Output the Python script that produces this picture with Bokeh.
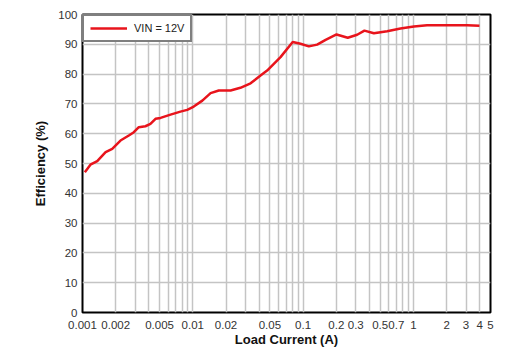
from bokeh.plotting import figure
from bokeh.models import FixedTicker, CustomJSTickFormatter, Legend, LegendItem, Range1d
from bokeh.embed import file_html
from bokeh.resources import INLINE

# ---- data ----
load_current = [0.00105, 0.00118, 0.00136, 0.00162, 0.00186, 0.00221, 0.00263, 0.00292,
                0.00324, 0.00372, 0.00413, 0.00459, 0.0051, 0.00628, 0.00773, 0.0089,
                0.0102, 0.0122, 0.0145, 0.0172, 0.022, 0.027, 0.0334, 0.0411, 0.0472,
                0.0624, 0.0805, 0.0947, 0.1127, 0.134, 0.16, 0.201, 0.254, 0.309, 0.36,
                0.438, 0.578, 0.764, 1.01, 1.33, 2.02, 3.07, 3.97]
efficiency = [47.1, 49.6, 50.8, 53.8, 54.9, 57.7, 59.4, 60.5,
              62.2, 62.5, 63.3, 65.0, 65.3, 66.4, 67.4, 68.0,
              69.1, 71.1, 73.6, 74.5, 74.5, 75.4, 76.9, 79.5, 81.2,
              85.7, 90.8, 90.2, 89.3, 89.9, 91.5, 93.3, 92.2, 93.2, 94.6,
              93.7, 94.4, 95.3, 96.0, 96.4, 96.4, 96.4, 96.2]
series_label = "VIN = 12V"

xtick_values = [0.001, 0.002, 0.005, 0.01, 0.02, 0.05, 0.1, 0.2, 0.3, 0.5, 0.7, 1, 2, 3, 4, 5]
xtick_labels = ["0.001", "0.002", "0.005", "0.01", "0.02", "0.05", "0.1", "0.2", "0.3",
                "0.5", "0.7", "1", "2", "3", "4", "5"]
xgrid_values = [m * d for d in [0.001, 0.01, 0.1, 1] for m in range(1, 10) if m * d <= 5.0001]
ytick_values = [0, 10, 20, 30, 40, 50, 60, 70, 80, 90, 100]

p = figure(width=522, height=364, x_axis_type="log",
           x_range=Range1d(0.001, 5), y_range=Range1d(0, 100),
           output_backend="svg", toolbar_location=None,
           min_border_left=82, min_border_right=32, min_border_top=14, min_border_bottom=52,
           frame_width=408, frame_height=298)
p.background_fill_color = "white"
p.border_fill_color = "white"
p.outline_line_color = "black"
p.outline_line_width = 2

r = p.line(load_current, efficiency, line_color="#e8141c", line_width=2.5)

font = "Liberation Sans"
p.xaxis.ticker = FixedTicker(ticks=xtick_values)
p.xaxis.formatter = CustomJSTickFormatter(args=dict(vals=xtick_values, labs=xtick_labels), code="""
let best = 0, bd = Infinity;
for (let i = 0; i < vals.length; i++) {
  const d = Math.abs(Math.log(vals[i]) - Math.log(tick));
  if (d < bd) { bd = d; best = i; }
}
return labs[best];
""")
p.yaxis.ticker = FixedTicker(ticks=ytick_values)
p.xgrid.ticker = FixedTicker(ticks=xgrid_values)
p.ygrid.ticker = FixedTicker(ticks=ytick_values)

for g in (p.xgrid, p.ygrid):
    g.grid_line_color = "#c4c4c4"
    g.grid_line_width = 1.5

for ax in (p.xaxis, p.yaxis):
    ax.axis_line_color = None
    ax.major_tick_line_color = None
    ax.minor_tick_line_color = None
    ax.major_tick_out = 0
    ax.major_tick_in = 0
    ax.minor_tick_out = 0
    ax.minor_tick_in = 0
    ax.major_label_text_font = font
    ax.major_label_text_font_size = "11.5px"
    ax.major_label_text_color = "#333333"
    ax.axis_label_text_font = font
    ax.axis_label_text_font_style = "bold"
    ax.axis_label_text_font_size = "13px"
    ax.axis_label_text_color = "#111111"

p.xaxis.axis_label = "Load Current (A)"
p.yaxis.axis_label = "Efficiency (%)"
p.xaxis.major_label_standoff = 8
p.yaxis.major_label_standoff = 5
p.xaxis.axis_label_standoff = 0
p.yaxis.axis_label_standoff = 7

legend = Legend(items=[LegendItem(label=series_label, renderers=[r])],
                location="top_left", margin=0, padding=6, spacing=0,
                glyph_width=37, glyph_height=12, label_height=12, label_standoff=7,
                border_line_color="black", border_line_width=2,
                label_text_font=font, label_text_font_size="11px",
                label_text_color="#222222", background_fill_alpha=1.0)
p.add_layout(legend)

open("out.html", "w").write(file_html(p, INLINE))
